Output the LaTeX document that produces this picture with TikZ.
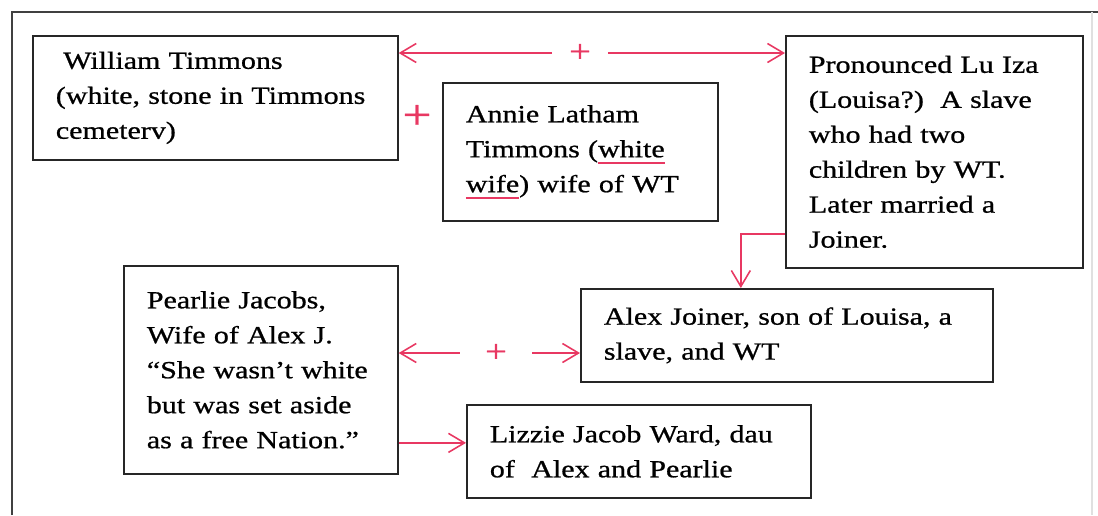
\documentclass[tikz,border=0pt]{standalone}
\usepackage{fontspec}
\setmainfont{Liberation Serif}[FakeStretch=1.22,FakeBold=0.8]
\usepackage{xcolor}
\usetikzlibrary{arrows.meta}
\definecolor{linkred}{RGB}{232,56,98}
\newlength{\ulwd}
\newcommand{\redul}[1]{#1\settowidth{\ulwd}{#1}\llap{\textcolor{linkred}{\rule[-3.6pt]{\ulwd}{0.9pt}}}}

\begin{document}
\begin{tikzpicture}[x=0.02cm, y=-0.02cm,
        >={Straight Barb[length=3.2mm,width=3.8mm]},
        every node/.style={font=\fontsize{14}{19.9}\selectfont},
        person/.style={draw=black!85, rectangle, line width=1pt, anchor=north west, align=left, inner xsep=0.46cm, inner ysep=0pt},
        link/.style={draw=linkred, line width=0.9pt},
        plus/.style={text=linkred, inner sep=0pt}]
        \useasboundingbox (0,0) rectangle (1098,515);

        % Frame
        \draw[line width=1.1pt, black!75] (12,515) -- (12,12) -- (1098,12);
        \draw[line width=0.8pt, black!12] (1092,12) -- (1092,515);

        % First generation
        \node[person, text width=6.38cm, minimum height=2.48cm] (wt) at (32,35) {\hspace{0.3em}William Timmons\\(white, stone in Timmons\\cemeterv)};
        \node[person, text width=4.58cm, minimum height=2.76cm] (annie) at (442,82) {Annie Latham\\Timmons (\redul{white}\\\redul{wife}) wife of WT};
        \node[person, text width=5.02cm, minimum height=4.64cm] (lou) at (785,35) {Pronounced Lu Iza\\(Louisa?)\ \ A slave\\who had two\\children by WT.\\Later married a\\Joiner.};
        \node[plus, font=\fontsize{24}{24}\selectfont] (p0) at (417,117) {+};
        \node[plus, font=\fontsize{18}{18}\selectfont, minimum width=1.1cm] (p1) at (580,53) {+};

        % Second generation
        \node[person, text width=7.32cm, minimum height=1.86cm] (alex) at (580,288) {Alex Joiner, son of Louisa, a\\slave, and WT};
        \node[person, text width=4.56cm, minimum height=4.16cm] (pj) at (123,265) {Pearlie Jacobs,\\Wife of Alex J.\\“She wasn’t white\\but was set aside\\as a free Nation.”};
        \node[plus, font=\fontsize{18}{18}\selectfont, minimum width=1.44cm] (p2) at (496,353) {+};

        % Third generation
        \node[person, text width=5.96cm, minimum height=1.86cm] (lz) at (466,404) {Lizzie Jacob Ward, dau\\of\ \ Alex and Pearlie};
        \coordinate (lzin) at ([yshift=0.17cm]lz.west);

        \draw[link, ->] (p1.west) -- (p1.west -| wt.east);
        \draw[link, ->] (p1.east) -- (p1.east -| lou.west);
        \draw[link, ->] ([yshift=0.7cm]lou.south west) -| ([xshift=-0.92cm]alex.north);
        \draw[link, ->] (p2.west) -- (p2.west -| pj.east);
        \draw[link, ->] (p2.east) -- (p2.east -| alex.west);
        \draw[link, ->] (pj.east |- lzin) -- (lzin);
    \end{tikzpicture}
\end{document}
